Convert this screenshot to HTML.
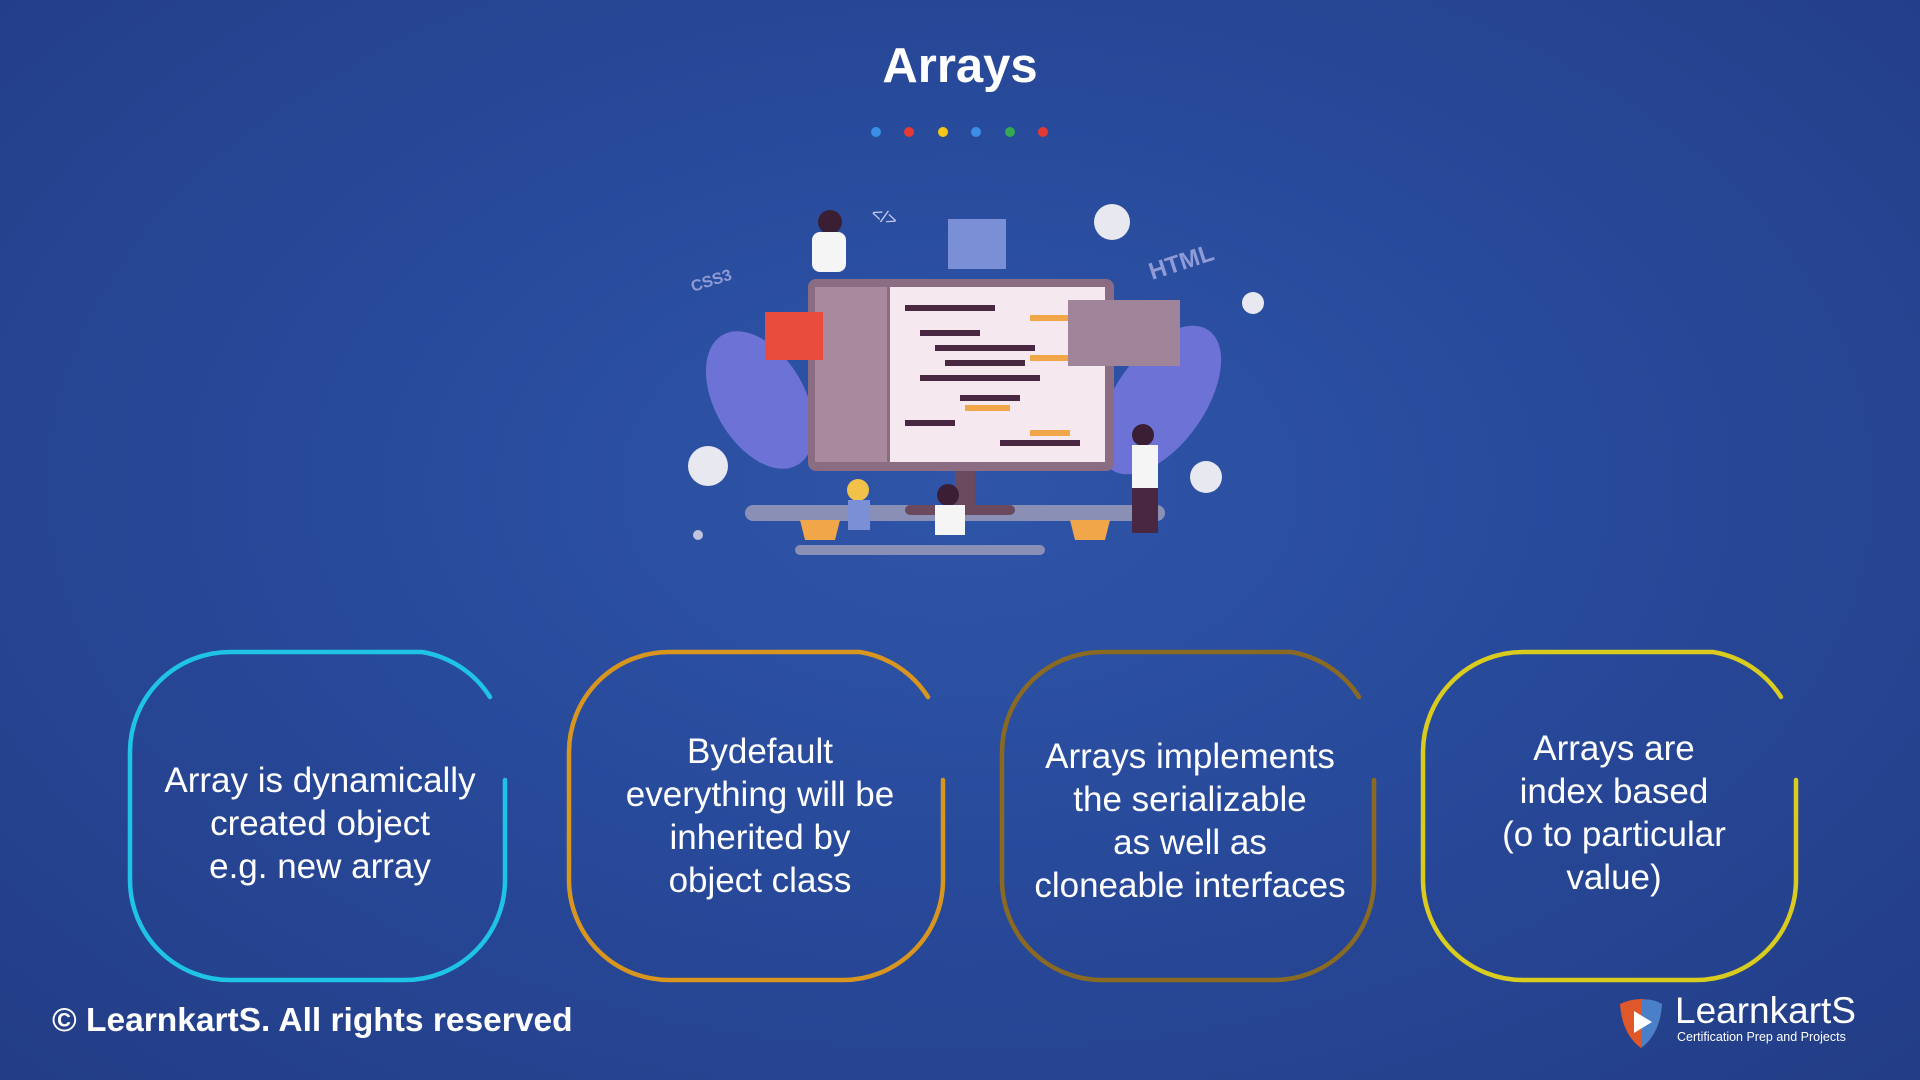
<!DOCTYPE html>
<html><head><meta charset="utf-8"><style>
html,body{margin:0;padding:0}
body{width:1920px;height:1080px;overflow:hidden;position:relative;
background:radial-gradient(ellipse at 50% 45%,#2f55a8 0%,#284a9b 45%,#233d86 100%);
font-family:"Liberation Sans",sans-serif;color:#fff}
.t{position:absolute;text-align:center;font-size:35px;line-height:43px;width:400px}
</style></head><body>
<div style="position:absolute;top:38px;left:0;width:1920px;text-align:center;font-size:49px;font-weight:bold">Arrays</div>
<svg width="1920" height="1080" style="position:absolute;left:0;top:0">
<g>
<circle cx="876" cy="132" r="5" fill="#3b8fe8"/><circle cx="909" cy="132" r="5" fill="#e53935"/>
<circle cx="943" cy="132" r="5" fill="#f5c518"/><circle cx="976" cy="132" r="5" fill="#3b8fe8"/>
<circle cx="1010" cy="132" r="5" fill="#35a853"/><circle cx="1043" cy="132" r="5" fill="#e53935"/>
</g>
<g>
<ellipse cx="760" cy="400" rx="45" ry="75" fill="#6d72d6" transform="rotate(-30 760 400)"/>
<ellipse cx="1160" cy="400" rx="45" ry="85" fill="#6d72d6" transform="rotate(35 1160 400)"/>
<rect x="745" y="505" width="420" height="16" rx="8" fill="#8a8fb5"/>
<rect x="795" y="545" width="250" height="10" rx="5" fill="#8a8fb5"/>
<rect x="808" y="279" width="306" height="192" rx="8" fill="#8b6d83"/>
<rect x="890" y="287" width="215" height="175" fill="#f5e9ef"/>
<rect x="815" y="287" width="72" height="175" fill="#a9899e"/>
<g fill="#4a2740">
<rect x="905" y="305" width="90" height="6"/><rect x="920" y="330" width="60" height="6"/><rect x="935" y="345" width="100" height="6"/>
<rect x="945" y="360" width="80" height="6"/><rect x="920" y="375" width="120" height="6"/><rect x="905" y="420" width="50" height="6"/>
<rect x="960" y="395" width="60" height="6"/><rect x="1000" y="440" width="80" height="6"/></g>
<g fill="#f2a64a"><rect x="1030" y="315" width="50" height="6"/><rect x="1030" y="355" width="40" height="6"/><rect x="965" y="405" width="45" height="6"/><rect x="1030" y="430" width="40" height="6"/></g>
<rect x="1068" y="300" width="112" height="66" fill="#a0849a"/>
<rect x="765" y="312" width="58" height="48" fill="#e94b3c"/>
<rect x="948" y="219" width="58" height="50" fill="#7a8fd6"/>
<rect x="955" y="471" width="20" height="40" fill="#6b4a60"/>
<rect x="905" y="505" width="110" height="10" rx="5" fill="#6b4a60"/>
<path d="M800 520 L840 520 L835 540 L805 540Z" fill="#f2a64a"/>
<path d="M1070 520 L1110 520 L1105 540 L1075 540Z" fill="#f2a64a"/>
<circle cx="708" cy="466" r="20" fill="#e8e8f0"/><circle cx="1206" cy="477" r="16" fill="#e8e8f0"/>
<circle cx="1112" cy="222" r="18" fill="#e8e8f0"/><circle cx="1253" cy="303" r="11" fill="#e8e8f0"/>
<circle cx="698" cy="535" r="5" fill="#c0c4dc"/>
<circle cx="830" cy="222" r="12" fill="#3a1f34"/><rect x="812" y="232" width="34" height="40" rx="8" fill="#f5f5f5"/>
<circle cx="1143" cy="435" r="11" fill="#3a1f34"/><rect x="1132" y="445" width="26" height="45" fill="#f5f5f5"/><rect x="1132" y="488" width="26" height="45" fill="#4a2740"/>
<circle cx="858" cy="490" r="11" fill="#f2c14a"/><rect x="848" y="500" width="22" height="30" fill="#7a8fd6"/>
<circle cx="948" cy="495" r="11" fill="#3a1f34"/><rect x="935" y="505" width="30" height="30" fill="#f5f5f5"/>
<text x="693" y="292" font-size="16" fill="#8f9bd6" font-weight="bold" transform="rotate(-18 693 292)">CSS3</text>
<text x="1152" y="280" font-size="24" fill="#8f9bd6" font-weight="bold" transform="rotate(-18 1152 280)">HTML</text>
<text x="870" y="218" font-size="18" fill="#c0c8ee" transform="rotate(20 870 218)">&lt;/&gt;</text>
</g>
<g fill="none" stroke-width="4.5" stroke-linecap="round">
<path d="M490 697 A100 100 0 0 0 422 652 L230 652 A100 100 0 0 0 130 752 L130 880 A100 100 0 0 0 230 980 L405 980 A100 100 0 0 0 505 880 L505 780" stroke="#1fc3e6"/>
<path d="M928 697 A100 100 0 0 0 860 652 L669 652 A100 100 0 0 0 569 752 L569 880 A100 100 0 0 0 669 980 L843 980 A100 100 0 0 0 943 880 L943 780" stroke="#d9961e"/>
<path d="M1359 697 A100 100 0 0 0 1291 652 L1102 652 A100 100 0 0 0 1002 752 L1002 880 A100 100 0 0 0 1102 980 L1274 980 A100 100 0 0 0 1374 880 L1374 780" stroke="#8a6a22"/>
<path d="M1781 697 A100 100 0 0 0 1713 652 L1523 652 A100 100 0 0 0 1423 752 L1423 880 A100 100 0 0 0 1523 980 L1696 980 A100 100 0 0 0 1796 880 L1796 780" stroke="#d9cc1e"/>
</g>
</svg>
<div class="t" style="left:120px;top:759px">Array is dynamically<br>created object<br>e.g. new array</div>
<div class="t" style="left:560px;top:730px">Bydefault<br>everything will be<br>inherited by<br>object class</div>
<div class="t" style="left:990px;top:735px">Arrays implements<br>the serializable<br>as well as<br>cloneable interfaces</div>
<div class="t" style="left:1414px;top:727px">Arrays are<br>index based<br>(o to particular<br>value)</div>
<div style="position:absolute;left:52px;top:1002px;font-size:33.5px;font-weight:bold">© LearnkartS. All rights reserved</div>
<svg width="50" height="56" style="position:absolute;left:1616px;top:996px"><path d="M4 8 Q25 -2 46 8 Q44 38 25 52 Q6 38 4 8Z" fill="#e0572a"/><path d="M25 4 Q36 2 46 8 Q44 38 25 52Z" fill="#4a7fc9"/><path d="M18 15 L36 26 L18 37Z" fill="#fff"/></svg>
<div style="position:absolute;left:1675px;top:990px;font-size:37px;line-height:42px">LearnkartS</div>
<div style="position:absolute;left:1677px;top:1030px;font-size:12.5px">Certification Prep and Projects</div>
</body></html>
